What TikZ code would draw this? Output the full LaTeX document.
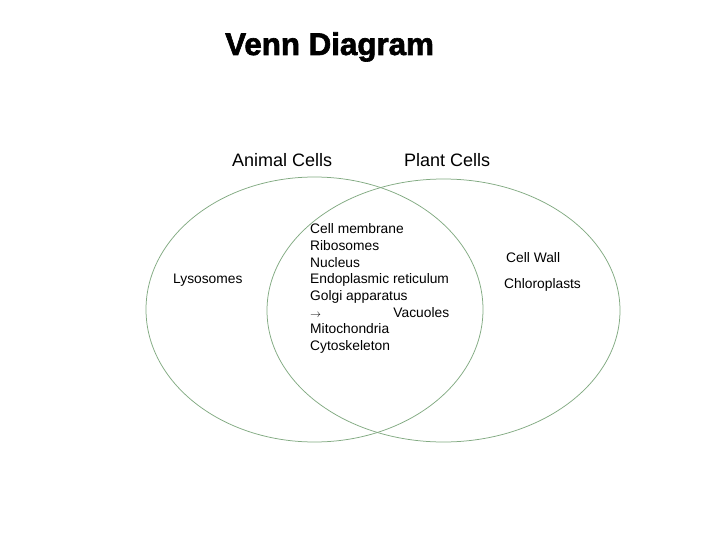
\documentclass[tikz,border=0pt]{standalone}
\usepackage{fontspec}
\setmainfont{Liberation Sans}
\newfontfamily\titlefont[FakeBold=2]{Liberation Sans Bold}
\definecolor{vennline}{RGB}{130,170,130}
\begin{document}
\begin{tikzpicture}[x=1pt,y=-1pt,
  venn/.style={draw=vennline,line width=0.75pt},
  lbl/.style={inner sep=0pt,anchor=base west,font=\fontsize{13.8}{16.7}\selectfont},
  head/.style={inner sep=0pt,anchor=base west,font=\fontsize{18}{21}\selectfont},
  ttl/.style={inner sep=0pt,anchor=base west,font=\fontsize{31.3}{36}\titlefont}]
\useasboundingbox[fill=white] (0,0) rectangle (720,540);
\draw[venn] (314.5,309.5) ellipse [x radius=168.5, y radius=132.5];
\draw[venn] (443.5,310.5) ellipse [x radius=176.5, y radius=131.5];
\node[ttl] (title) at (225,55) {Venn Diagram};
\node[head] (animal) at (232,167) {Animal Cells};
\node[head] (plant) at (404,167) {Plant Cells};
\node[lbl] (lyso) at (173,283) {Lysosomes};
\node[lbl] (wall) at (506,262) {Cell Wall};
\node[lbl] (chloro) at (504,288) {Chloroplasts};
\node[lbl,anchor=north west,align=left] (common) at (310,223.5) {Cell membrane\\Ribosomes\\Nucleus\\Endoplasmic reticulum\\Golgi apparatus\\\hbox to 139pt{{\fontsize{11}{13}\selectfont$\rightarrow$}\hfil Vacuoles}\\Mitochondria\\Cytoskeleton};
\end{tikzpicture}
\end{document}
